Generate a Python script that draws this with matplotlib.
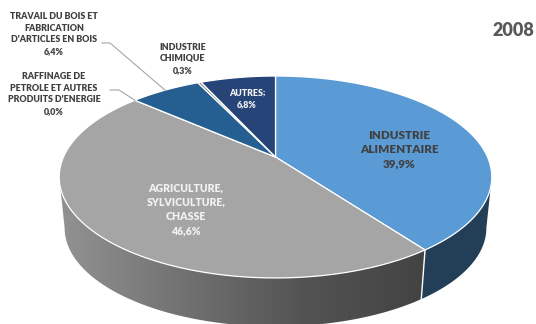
import numpy as np
import matplotlib
matplotlib.use("Agg")
import matplotlib.pyplot as plt
from matplotlib.patches import Polygon
from matplotlib.colors import LinearSegmentedColormap

plt.rcParams['font.family'] = ['Lato', 'DejaVu Sans']

# Sector shares of 2008, clockwise from twelve o'clock
sectors = ["INDUSTRIE\nALIMENTAIRE", "AGRICULTURE,\nSYLVICULTURE,\nCHASSE",
           "RAFFINAGE DE\nPETROLE ET AUTRES\nPRODUITS D'ENERGIE",
           "TRAVAIL DU BOIS ET\nFABRICATION\nD'ARTICLES EN BOIS",
           "INDUSTRIE\nCHIMIQUE", "AUTRES;"]
shares = [39.9, 46.6, 0.0, 6.4, 0.3, 6.8]
top_colors = ["#5B9BD5", "#A5A5A5", "#A5A5A5", "#255E91", "#8E8E8E", "#264478"]
value_labels = [f"{v:.1f}%".replace(".", ",") for v in shares]

# Perspective model of the tilted disc, in pixel units
CX, CY = 275.5, 157.0
RX, RY = 212.0, 97.0
TILT = 0.198
DEPTH = 51.5
BASE_SCALE = 0.975
TEXT = "#404040"
WEIGHT = "heavy"


def project(pct, lower=False):
    """Map a cumulative percentage on the rim to canvas coordinates."""
    theta = np.asarray(pct) / 100 * 2 * np.pi
    u, v = np.sin(theta), np.cos(theta)
    d = 1 + TILT * v
    s = BASE_SCALE if lower else 1.0
    x = CX + s * RX * u / d
    y = CY - s * RY * v / d + (DEPTH if lower else 0)
    return x, y


fig = plt.figure(figsize=(5.36, 3.24), dpi=100)
ax = fig.add_axes([0, 0, 1, 1])
ax.axis("off")

edges = np.concatenate([[0], np.cumsum(shares)])


def silhouette_pct(pick):
    """Rim percentage of the widest point on each ring (pick: argmin or argmax)."""
    p = np.linspace(0, 100, 2001)
    return p[pick(project(p)[0])], p[pick(project(p, lower=True)[0])]


def wall_outline(a_top, a_low, b):
    """Visible side wall from the silhouette points to the shared seam at b."""
    pt = np.linspace(a_top, b, 200)
    pb = np.linspace(b, a_low, 200)
    xt, yt = project(pt)
    xb, yb = project(pb, lower=True)
    return np.column_stack([np.r_[xt, xb], np.r_[yt, yb]])


# Outer wall: dark blue under the first sector, shaded grey under the second
right_top, right_low = silhouette_pct(np.argmax)
left_top, left_low = silhouette_pct(np.argmin)

blue_wall = Polygon(wall_outline(right_top, right_low, edges[1]), closed=True,
                    facecolor="#233F57", edgecolor="none", zorder=1)
ax.add_patch(blue_wall)

grey_wall = Polygon(wall_outline(left_top, left_low, edges[1]), closed=True,
                    facecolor="none", edgecolor="none", zorder=1)
ax.add_patch(grey_wall)
wall_cmap = LinearSegmentedColormap.from_list(
    "wall", ["#929292", "#727272", "#535353", "#434343"])
shade = ax.imshow(np.linspace(0, 1, 256)[None, :], cmap=wall_cmap, aspect="auto",
                  extent=(60, 425, 330, 180), zorder=1)
shade.set_clip_path(grey_wall)

# White seam where the two walls meet
xs0, ys0 = project(edges[1])
xs1, ys1 = project(edges[1], lower=True)
ax.plot([xs0, xs1], [ys0, ys1], color="white", lw=1.0, zorder=2)

# Top face of every sector
for a, b, col in zip(edges[:-1], edges[1:], top_colors):
    p = np.linspace(a, b, max(int((b - a) * 6), 2))
    x, y = project(p)
    pts = np.column_stack([np.r_[CX, x], np.r_[CY, y]])
    ax.add_patch(Polygon(pts, closed=True, facecolor=col, edgecolor="white",
                         linewidth=0.9, joinstyle="round", zorder=3))

# Leader lines for the two labels outside the disc
rx, ry = project(edges[3] - shares[2])
ax.plot([110, 119, rx], [90, 90, ry], color="#A6A6A6", lw=0.8, zorder=4)
wx, wy = project((edges[3] + edges[4]) / 2)
ax.plot([102, 110, wx], [43, 43, wy], color="#A6A6A6", lw=0.8, zorder=4)

# Labels: sector name followed by its value
small = dict(ha="center", va="center", fontweight=WEIGHT, fontsize=6.4,
             linespacing=1.42, zorder=5)
ax.text(54, 34, sectors[3] + "\n" + value_labels[3], color=TEXT, **small)
ax.text(54, 94, sectors[2] + "\n" + value_labels[2], color=TEXT, **small)
ax.text(183, 59, sectors[4] + "\n" + value_labels[4], color=TEXT, **small)
ax.text(247, 99, sectors[5] + "\n" + value_labels[5], color="#F2F2F2", **small)
ax.text(399, 149.5, sectors[0] + "\n" + value_labels[0], color=TEXT, ha="center",
        va="center", fontweight=WEIGHT, fontsize=8.4, linespacing=1.38, zorder=5)
ax.text(186, 209.5, sectors[1] + "\n" + value_labels[1], color="#F2F2F2", ha="center",
        va="center", fontweight=WEIGHT, fontsize=7.6, linespacing=1.36, zorder=5)

ax.text(513, 30, "2008", color="#595959", ha="center", va="center",
        fontweight=WEIGHT, fontsize=13)

ax.set_xlim(0, 536)
ax.set_ylim(324, 0)
fig.savefig("out.png", dpi=100, facecolor="white")
